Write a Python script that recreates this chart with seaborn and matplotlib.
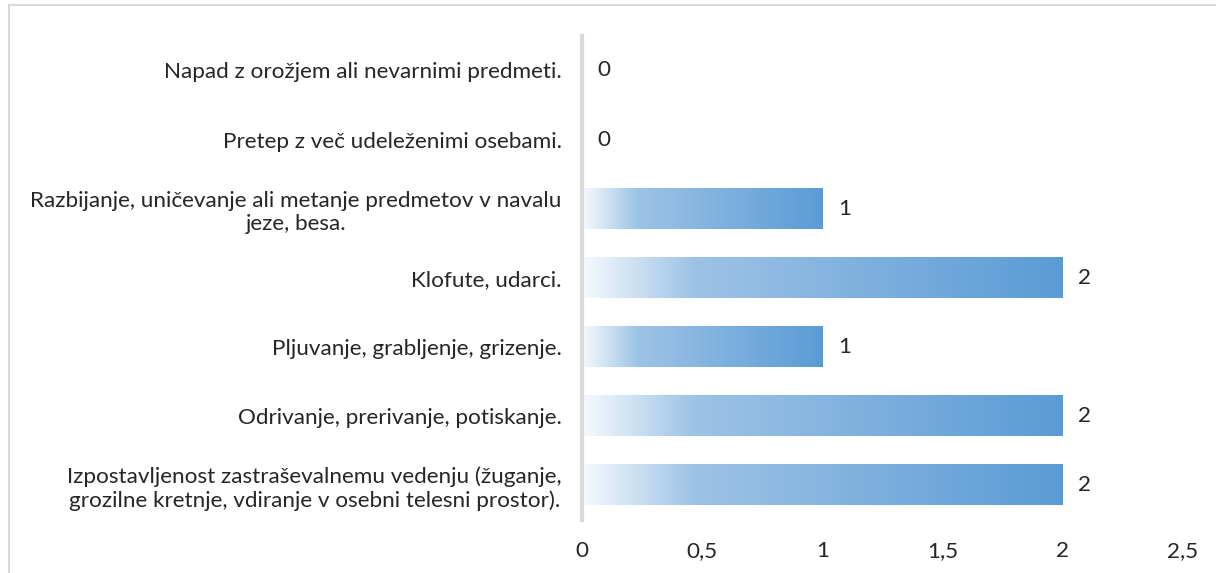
import numpy as np
import pandas as pd
import matplotlib
matplotlib.use("Agg")
import matplotlib.pyplot as plt
import matplotlib.patches as mpatches
from matplotlib.colors import LinearSegmentedColormap
import seaborn as sns

categories = [
    "Napad z orožjem ali nevarnimi predmeti.",
    "Pretep z več udeleženimi osebami.",
    "Razbijanje, uničevanje ali metanje predmetov v navalu\njeze, besa.",
    "Klofute, udarci.",
    "Pljuvanje, grabljenje, grizenje.",
    "Odrivanje, prerivanje, potiskanje.",
    "Izpostavljenost zastraševalnemu vedenju (žuganje,\ngrozilne kretnje, vdiranje v osebni telesni prostor).",
]
values = [0, 0, 1, 2, 1, 2, 2]
x_ticks = [0, 0.5, 1, 1.5, 2, 2.5]
x_tick_labels = ["0", "0,5", "1", "1,5", "2", "2,5"]

df = pd.DataFrame({"category": categories, "value": values})

sns.set_style("white")
plt.rcParams["font.family"] = ["Lato", "DejaVu Sans"]
FS = 16.2

fig = plt.figure(figsize=(12.16, 5.73), dpi=100)
ax = fig.add_axes([0.4786, 0.0925, 0.4943, 0.845])

sns.barplot(data=df, y="category", x="value", orient="h", color="#5B9BD5",
            width=0.58, ax=ax)

# gradient fill: white -> light blue -> blue
cmap = LinearSegmentedColormap.from_list(
    "grad", [(0, "#F7FAFD"), (0.23, "#9DC3E6"), (1, "#5B9BD5")])
grad = np.linspace(0, 1, 256).reshape(1, -1)
for patch in list(ax.patches):
    x0, y0 = patch.get_x(), patch.get_y()
    w, h = patch.get_width(), patch.get_height()
    if w <= 0:
        continue
    patch.set_facecolor("none")
    patch.set_edgecolor("none")
    ax.imshow(grad, cmap=cmap, aspect="auto", extent=[x0, x0 + w, y0 + h, y0],
              zorder=2, interpolation="bicubic")

ax.set_xlim(0, 2.5)
ax.set_ylim(6.5, -0.5)
ax.set_xticks(x_ticks)
ax.set_xticklabels(x_tick_labels, fontsize=FS)
ax.set_xlabel("")
ax.set_ylabel("")
for lab in ax.get_yticklabels():
    lab.set_multialignment("center")
    lab.set_fontsize(FS)
ax.tick_params(axis="y", length=0, pad=14.5)
ax.tick_params(axis="x", length=0, pad=15)

for s in ["top", "right", "bottom"]:
    ax.spines[s].set_visible(False)
ax.spines["left"].set_color("#D9D9D9")
ax.spines["left"].set_linewidth(3)
ax.spines["left"].set_zorder(3)

for i, v in enumerate(values):
    ax.text(v + 0.065, i, f"{v}", va="center", ha="left", fontsize=FS)

# outer chart border
fig.patches.append(mpatches.Rectangle((9 / 1216, -0.1), 1.2, 1 - 5 / 573 + 0.1,
                                      transform=fig.transFigure, fill=False,
                                      edgecolor="#D9D9D9", linewidth=1.5))

fig.savefig("out.png", dpi=100)
